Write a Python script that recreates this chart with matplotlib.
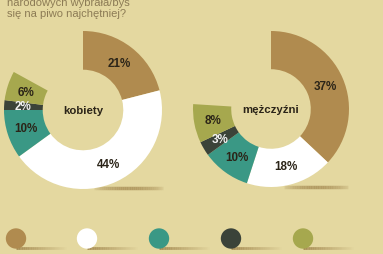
import numpy as np
import matplotlib
matplotlib.use("Agg")
import matplotlib.pyplot as plt
from matplotlib.collections import LineCollection

plt.rcParams['font.family'] = ['Liberation Sans', 'DejaVu Sans']

# dane
kategorie = ['kat1', 'kat2', 'kat3', 'kat4', 'kat5']
kolory = ['#B08B4F', '#FFFFFF', '#3A9885', '#3B4339', '#A6A84E']
kobiety = [21, 44, 10, 2, 6]
mezczyzni = [37, 18, 10, 3, 8]
etykiety_kol = ['#2B2418', '#2B2418', '#2B2418', '#F2F2F2', '#2B2418']
tytul = ['narodowych wybrała/byś', 'się na piwo najchętniej?']

W, H = 383, 255
BG = '#E4D8A0'
fig = plt.figure(figsize=(W / 100, H / 100), dpi=100)
fig.patch.set_facecolor(BG)

# tło w pikselach (od góry)
bg = fig.add_axes([0, 0, 1, 1])
bg.set_xlim(0, W)
bg.set_ylim(H, 0)
bg.axis('off')


def cien(x0, x1, y, szer):
    # cień jako zanikająca linia
    xs = np.linspace(x0, x1, 40)
    segs = [[(xs[i], y), (xs[i + 1], y)] for i in range(len(xs) - 1)]
    t = np.linspace(0, 1, len(segs))
    alpha = 0.55 * np.sin(np.pi * t) ** 0.6
    cols = [(0.55, 0.42, 0.2, a) for a in alpha]
    bg.add_collection(LineCollection(segs, colors=cols, linewidths=szer, capstyle='butt'))


cien(92, 165, 189, 2.5)
cien(282, 350, 188, 2.5)

# tytuł
for i, linia in enumerate(tytul):
    bg.text(7, 2.5 + 11.5 * i, linia, color='#8C7B55', fontsize=8.0,
            ha='left', va='center')

# legenda (kółka)
leg_x = [16, 87, 159, 231, 303]
for x, c in zip(leg_x, kolory):
    xs = np.linspace(x, x + 52, 30)
    segs = [[(xs[i], 248.5), (xs[i + 1], 248.5)] for i in range(len(xs) - 1)]
    alpha = np.linspace(0.7, 0.0, len(segs))
    bg.add_collection(LineCollection(segs, colors=[(0.55, 0.42, 0.2, a) for a in alpha],
                                     linewidths=2.0))
    bg.scatter([x], [239.5], s=215, color=c, edgecolors='none', zorder=3)


def donut(cx, cy, R, wartosci, podpis):
    ax = fig.add_axes([(cx - R) / W, (H - cy - R) / H, 2 * R / W, 2 * R / H])
    fr = [v / 100 for v in wartosci]
    wedges, _ = ax.pie(fr, colors=kolory, startangle=90, counterclock=False,
                       normalize=False, radius=1.0,
                       wedgeprops=dict(width=0.49, edgecolor='none'))
    ax.set_xlim(-1, 1)
    ax.set_ylim(-1, 1)
    ax.axis('off')
    start = 90.0
    for v, kol in zip(wartosci, etykiety_kol):
        mid = np.deg2rad(start - v * 3.6 / 2)
        r = 0.755
        ax.text(r * np.cos(mid), r * np.sin(mid), f'{v}%', ha='center', va='center',
                fontsize=8.4, fontweight='bold', color=kol)
        start -= v * 3.6
    ax.text(0, 0, podpis, ha='center', va='center', fontsize=8.2,
            fontweight='bold', color='#2B2418')
    return ax


donut(83, 111, 79, kobiety, 'kobiety')
donut(271, 110, 78, mezczyzni, 'mężczyźni')

fig.savefig('out.png', dpi=100, facecolor=BG)
